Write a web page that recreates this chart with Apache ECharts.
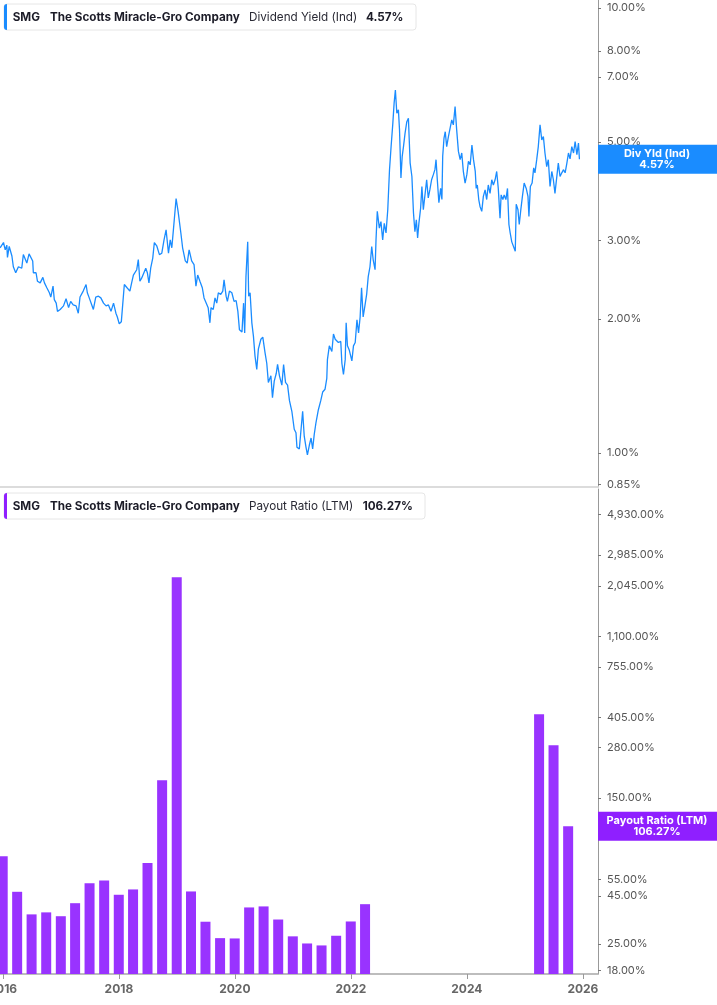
<!DOCTYPE html>
<html>
<head>
<meta charset="utf-8">
<title>SMG Dividend Yield / Payout Ratio</title>
<script src="https://cdn.jsdelivr.net/npm/echarts@6.0.0/dist/echarts.min.js"></script>
<style>
  html, body { margin: 0; padding: 0; background: #fff; }
  #main { width: 717px; height: 1005px; }
</style>
</head>
<body>
<div id="main"></div>
<script>
// 股息率 (Dividend Yield, %)
var divDates = [
  '2015-12-15','2016-01-05','2016-01-16','2016-01-26','2016-01-30','2016-02-10','2016-02-27','2016-03-07','2016-03-22','2016-04-08',
  '2016-04-29','2016-05-09','2016-05-20','2016-05-31','2016-06-14','2016-06-25','2016-07-07','2016-07-11','2016-07-28','2016-08-06',
  '2016-08-23','2016-09-09','2016-09-19','2016-10-04','2016-10-20','2016-10-29','2016-11-12','2016-11-20','2016-12-02','2016-12-10',
  '2016-12-27','2017-01-17','2017-02-02','2017-02-18','2017-03-03','2017-03-19','2017-04-06','2017-04-20','2017-05-01','2017-05-21',
  '2017-06-08','2017-06-16','2017-06-28','2017-07-14','2017-07-24','2017-08-08','2017-08-25','2017-09-09','2017-09-26','2017-10-12',
  '2017-10-27','2017-11-12','2017-11-28','2017-12-13','2017-12-22','2018-01-03','2018-01-16','2018-01-26','2018-02-04','2018-02-21',
  '2018-03-11','2018-03-22','2018-04-02','2018-04-12','2018-04-23','2018-05-03','2018-05-13','2018-05-24','2018-06-04','2018-06-19',
  '2018-06-29','2018-07-09','2018-07-20','2018-08-02','2018-08-12','2018-08-27','2018-09-13','2018-09-28','2018-10-12','2018-10-25',
  '2018-11-09','2018-11-20','2018-11-30','2018-12-10','2018-12-27','2019-01-09','2019-01-26','2019-02-06','2019-02-23','2019-03-07',
  '2019-03-19','2019-04-04','2019-04-19','2019-05-01','2019-05-12','2019-05-26','2019-06-10','2019-06-21','2019-07-03','2019-07-17',
  '2019-07-28','2019-08-04','2019-08-18','2019-08-29','2019-09-09','2019-09-19','2019-10-04','2019-10-17','2019-10-25','2019-11-07',
  '2019-11-15','2019-11-28','2019-12-13','2019-12-27','2020-01-09','2020-01-20','2020-01-30','2020-02-15','2020-02-25','2020-03-03',
  '2020-03-11','2020-03-22','2020-03-28','2020-04-06','2020-04-17','2020-04-27','2020-05-07','2020-05-18','2020-05-28','2020-06-13',
  '2020-06-25','2020-07-09','2020-07-20','2020-07-30','2020-08-15','2020-08-25','2020-09-05','2020-09-18','2020-09-26','2020-10-08',
  '2020-10-23','2020-11-03','2020-11-15','2020-11-28','2020-12-10','2020-12-25','2021-01-09','2021-01-20','2021-01-26','2021-02-10',
  '2021-02-21','2021-03-03','2021-03-13','2021-03-24','2021-04-02','2021-04-14','2021-04-25','2021-05-05','2021-05-15','2021-05-26',
  '2021-06-10','2021-06-25','2021-07-07','2021-07-22','2021-08-02','2021-08-06','2021-08-18','2021-09-03','2021-09-13','2021-09-24',
  '2021-10-14','2021-10-29','2021-11-05','2021-11-15','2021-11-26','2021-12-02','2021-12-10','2021-12-22','2022-01-07','2022-01-17',
  '2022-01-28','2022-02-08','2022-02-18','2022-02-28','2022-03-09','2022-03-19','2022-03-30','2022-04-10','2022-04-20','2022-05-01',
  '2022-05-12','2022-05-21','2022-06-02','2022-06-08','2022-06-16','2022-06-29','2022-07-09','2022-07-20','2022-07-30','2022-08-10',
  '2022-08-21','2022-09-01','2022-09-11','2022-09-22','2022-09-30','2022-10-08','2022-10-17','2022-10-27','2022-11-03','2022-11-12',
  '2022-11-20','2022-11-28','2022-12-08','2022-12-19','2022-12-29','2023-01-09','2023-01-20','2023-01-30','2023-02-08','2023-02-17',
  '2023-02-25','2023-03-05','2023-03-16','2023-03-24','2023-04-02','2023-04-12','2023-04-23','2023-05-03','2023-05-13','2023-05-24',
  '2023-06-04','2023-06-14','2023-06-21','2023-06-29','2023-07-09','2023-07-20','2023-07-28','2023-08-02','2023-08-10','2023-08-18',
  '2023-08-27','2023-09-07','2023-09-18','2023-09-28','2023-10-08','2023-10-19','2023-10-29','2023-11-09','2023-11-20','2023-11-30',
  '2023-12-10','2023-12-21','2024-01-01','2024-01-11','2024-01-22','2024-02-02','2024-02-12','2024-02-23','2024-02-29','2024-03-07',
  '2024-03-16','2024-03-24','2024-04-04','2024-04-14','2024-04-25','2024-05-05','2024-05-15','2024-05-26','2024-06-06','2024-06-16',
  '2024-06-27','2024-07-07','2024-07-17','2024-07-28','2024-08-04','2024-08-15','2024-08-23','2024-09-03','2024-09-13','2024-09-22',
  '2024-09-30','2024-10-10','2024-10-20','2024-11-01','2024-11-07','2024-11-18','2024-11-26','2024-12-06','2024-12-16','2024-12-27',
  '2025-01-09','2025-01-20','2025-01-26','2025-02-04','2025-02-15','2025-02-25','2025-03-05','2025-03-16','2025-03-26','2025-04-06',
  '2025-04-17','2025-04-27','2025-05-07','2025-05-18','2025-05-28','2025-06-08','2025-06-19','2025-06-29','2025-07-09','2025-07-20',
  '2025-07-30','2025-08-10','2025-08-21','2025-09-01','2025-09-11','2025-09-22','2025-10-02','2025-10-12','2025-10-23','2025-11-03',
  '2025-11-13','2025-11-24','2025-12-04','2025-12-10'
];
var divYield = [
  2.89,2.97,2.86,2.93,2.75,2.91,2.77,2.62,2.54,2.62,
  2.60,2.79,2.81,2.67,2.80,2.79,2.70,2.54,2.54,2.43,
  2.41,2.48,2.41,2.35,2.29,2.24,2.37,2.21,2.17,2.08,
  2.10,2.14,2.22,2.12,2.19,2.15,2.14,2.06,2.24,2.31,
  2.39,2.29,2.23,2.15,2.10,2.24,2.25,2.23,2.17,2.14,
  2.15,2.08,2.17,2.06,2.02,1.95,1.97,1.96,2.39,2.35,
  2.31,2.41,2.51,2.49,2.58,2.72,2.43,2.47,2.45,2.60,
  2.54,2.41,2.60,2.74,2.97,2.92,2.79,2.81,3.01,3.17,
  2.81,3.01,2.89,3.17,3.73,3.48,3.12,2.89,2.70,2.67,
  2.86,2.70,2.65,2.37,2.51,2.43,2.35,2.23,2.21,2.12,
  1.96,2.12,2.10,2.23,2.17,2.29,2.27,2.31,2.45,2.25,
  2.19,2.31,2.29,2.19,2.20,2.08,1.89,1.87,2.17,1.86,
  2.49,2.98,2.25,2.29,1.96,1.83,1.65,1.54,1.71,1.80,
  1.82,1.68,1.59,1.44,1.49,1.33,1.45,1.51,1.58,1.49,
  1.42,1.58,1.44,1.42,1.31,1.24,1.13,1.11,1.03,1.02,
  1.13,1.24,1.09,1.03,0.99,1.04,1.08,1.02,1.10,1.17,
  1.25,1.31,1.37,1.39,1.47,1.62,1.74,1.69,1.85,1.80,
  1.77,1.78,1.59,1.50,1.62,1.96,1.74,1.70,1.61,1.74,
  1.77,1.99,1.86,2.02,2.35,2.02,2.14,2.27,2.49,2.62,
  2.91,2.72,2.58,3.01,3.49,3.20,3.31,3.01,3.28,3.12,
  3.52,4.33,4.88,5.51,6.11,6.54,5.80,5.90,5.32,4.15,
  4.64,4.88,5.23,5.55,5.65,4.48,4.18,3.46,3.14,3.34,
  3.04,3.28,3.55,3.97,3.52,3.49,4.11,3.74,3.90,4.11,
  4.22,4.33,4.56,4.11,3.65,3.93,3.71,4.64,5.09,5.27,
  4.88,5.14,5.12,5.60,5.46,6.00,5.32,4.76,4.56,4.72,
  4.29,4.04,4.22,4.52,4.44,4.92,4.56,4.29,3.93,4.00,
  3.71,3.58,3.49,3.77,3.90,3.71,4.00,3.83,4.11,4.00,
  4.11,4.29,3.93,3.37,3.80,3.71,3.80,3.71,3.93,3.26,
  3.12,2.98,3.01,2.84,3.62,3.52,3.26,3.52,3.77,4.04,
  3.93,3.77,3.40,3.97,4.04,4.37,4.26,4.56,4.88,5.46,
  5.05,5.14,4.72,4.40,4.56,3.97,4.29,4.11,3.83,3.80,
  4.48,4.18,4.26,4.33,4.26,4.48,4.72,4.58,4.88,4.72,
  5.01,4.68,4.97,4.57
];

// 派息率 (Payout Ratio LTM, %) 季度
var payoutDates = [
  '2015-12-31','2016-03-31','2016-06-30','2016-09-30','2016-12-31','2017-03-31','2017-06-30','2017-09-30',
  '2017-12-31','2018-03-31','2018-06-30','2018-09-30','2018-12-31','2019-03-31','2019-06-30','2019-09-30',
  '2019-12-31','2020-03-31','2020-06-30','2020-09-30','2020-12-31','2021-03-31','2021-06-30','2021-09-30',
  '2021-12-31','2022-03-31','2025-03-31','2025-06-30','2025-09-30'
];
var payoutRatio = [
  73.3, 47.4, 35.9, 36.8, 35.1, 41.2, 52.6, 54.5,
  45.7, 48.8, 67.5, 187, 2270, 47.6, 32.8, 26.8,
  26.7, 39.1, 39.6, 33.7, 27.4, 25.1, 24.5, 27.6,
  32.9, 40.7, 421, 288, 106.27
];

// 刻度
var divTicks = [0.85, 1, 2, 3, 5, 7, 8, 10];
var payoutTicks = [18, 25, 45, 55, 102, 150, 280, 405, 755, 1100, 2045, 2985, 4930];
var yearLabels = ['2016', '2018', '2020', '2022', '2024', '2026'];

var lastYield = 4.57;
var lastPayout = 106.27;

var FONT = 'Inter, "Noto Sans", sans-serif';
var BLUE = '#1a8cff';
var PURPLE = '#9933ff';
var PURPLE_TAG = '#8f1fff';

// 时间 -> 毫秒 (x 轴用 value 轴, 方便自定义刻度)
function ts(s) { return echarts.time.parse(s).getTime(); }
var X_MIN = ts('2015-12-14');
var X_MAX = ts('2026-04-06');

var myChart = echarts.init(document.getElementById('main'), null, {width: 717, height: 1005});

var divData = [];
for (var i = 0; i < divDates.length; i++) {
  divData.push([ts(divDates[i]), divYield[i]]);
}
var payoutData = [];
for (var j = 0; j < payoutDates.length; j++) {
  payoutData.push([ts(payoutDates[j]), payoutRatio[j]]);
}
var yearTicks = yearLabels.map(function (y) { return ts(y + '-01-01'); });

function pct(v) {
  return Number(v).toLocaleString('en-US', {minimumFractionDigits: 2, maximumFractionDigits: 2}) + '%';
}

// 柱子用 custom 系列画, 底边贴网格下沿(对数轴没有 0)
function renderBar(params, api) {
  var top = api.coord([api.value(0), api.value(1)]);
  var cs = params.coordSys;
  var bottom = cs.y + cs.height;
  return {
    type: 'rect',
    shape: {x: top[0] - 5, y: top[1], width: 10, height: bottom - top[1]},
    style: {fill: PURPLE}
  };
}

var option = {
  animation: false,
  backgroundColor: '#fff',
  textStyle: {fontFamily: FONT},
  grid: [
    {left: 0, right: 119, top: 0, height: 487, outerBoundsMode: 'none'},
    {left: 0, right: 119, top: 489, bottom: 31, outerBoundsMode: 'none'}
  ],
  xAxis: [
    {
      type: 'value', gridIndex: 0, min: X_MIN, max: X_MAX,
      axisLine: {show: true, onZero: false, lineStyle: {color: '#dcdcdc', width: 2}},
      axisTick: {show: false},
      axisLabel: {show: false},
      splitLine: {show: false}
    },
    {
      type: 'value', gridIndex: 1, min: X_MIN, max: X_MAX,
      axisLine: {show: true, onZero: false, lineStyle: {color: '#a8a8a8', width: 1.5}},
      axisTick: {show: true, customValues: yearTicks, length: 5, lineStyle: {color: '#999'}},
      axisLabel: {
        customValues: yearTicks,
        formatter: function (v) { return String(new Date(v).getFullYear()); },
        fontFamily: FONT, fontWeight: 'bold', fontSize: 12, color: '#666', margin: 9
      },
      splitLine: {show: false}
    }
  ],
  yAxis: [
    {
      type: 'log', gridIndex: 0, position: 'right', min: 0.838, max: 10.42,
      axisLine: {show: true, onZero: false, lineStyle: {color: '#999'}},
      axisTick: {show: true, customValues: divTicks, length: 3, lineStyle: {color: '#777'}},
      axisLabel: {customValues: divTicks, formatter: pct, fontFamily: FONT, fontSize: 11, color: '#555', margin: 9},
      splitLine: {show: false}
    },
    {
      type: 'log', gridIndex: 1, position: 'right', min: 17.24, max: 6730,
      axisLine: {show: true, onZero: false, lineStyle: {color: '#999'}},
      axisTick: {show: true, customValues: payoutTicks, length: 3, lineStyle: {color: '#777'}},
      axisLabel: {customValues: payoutTicks, formatter: pct, fontFamily: FONT, fontSize: 11, color: '#555', margin: 9},
      splitLine: {show: false}
    }
  ],
  series: [
    {
      name: 'Dividend Yield (Ind)',
      type: 'line',
      xAxisIndex: 0, yAxisIndex: 0,
      data: divData,
      showSymbol: false,
      lineStyle: {color: BLUE, width: 1.3},
      itemStyle: {color: BLUE}
    },
    {
      name: 'Payout Ratio (LTM)',
      type: 'custom',
      xAxisIndex: 1, yAxisIndex: 1,
      data: payoutData,
      encode: {x: 0, y: 1},
      clip: true,
      renderItem: renderBar
    }
  ]
};
myChart.setOption(option);

// 图例框 + 右侧最新值标签
function legendBox(top, width, accent, metric, metricX, valueText, valueX) {
  var txt = function (x, s, bold) {
    return {
      type: 'text', x: x, y: 13, z: 100,
      style: {text: s, font: (bold ? 'bold ' : '') + '11.7px ' + FONT, fill: bold ? '#1c1c28' : '#2a2a35', verticalAlign: 'middle'}
    };
  };
  return {
    type: 'group', x: 4, y: top, z: 100,
    children: [
      {type: 'rect', z: 100, shape: {x: 0, y: 0, width: width, height: 26, r: 3}, style: {fill: '#fff', stroke: '#e6e6e6', lineWidth: 1}},
      {type: 'rect', z: 101, shape: {x: 0, y: 0, width: 3, height: 26, r: [3, 0, 0, 3]}, style: {fill: accent}},
      txt(8.7, 'SMG', true),
      txt(46, 'The Scotts Miracle-Gro Company', true),
      txt(metricX, metric, false),
      txt(valueX, valueText, true)
    ]
  };
}

function valueTag(y, color, title, value) {
  return {
    type: 'group', z: 100,
    children: [
      {type: 'rect', z: 100, shape: {x: 598, y: y - 14.5, width: 119, height: 29}, style: {fill: color}},
      {type: 'text', z: 101, x: 657, y: y,
        style: {text: title + '\n' + value, font: 'bold 11px ' + FONT, fill: '#fff', align: 'center', verticalAlign: 'middle', lineHeight: 11}}
    ]
  };
}

var yBlue = myChart.convertToPixel({yAxisIndex: 0}, lastYield);
var yPurple = myChart.convertToPixel({yAxisIndex: 1}, lastPayout);

myChart.setOption({
  graphic: [
    legendBox(4, 412, BLUE, 'Dividend Yield (Ind)', 245, pct(lastYield), 362),
    legendBox(493, 421, PURPLE_TAG, 'Payout Ratio (LTM)', 245, pct(lastPayout), 358.7),
    valueTag(yBlue, BLUE, 'Div Yld (Ind)', pct(lastYield)),
    valueTag(yPurple, PURPLE_TAG, 'Payout Ratio (LTM)', pct(lastPayout))
  ]
});
</script>
</body>
</html>
